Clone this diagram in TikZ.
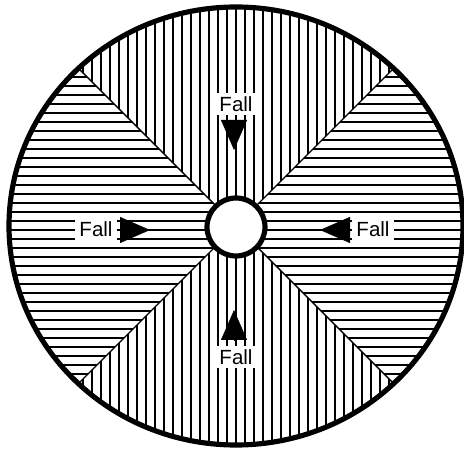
\documentclass[tikz,border=0pt]{standalone}
\usepackage{fontspec}
\setmainfont{Liberation Sans}
\usetikzlibrary{arrows.meta}

\begin{document}
\begin{tikzpicture}[
  x=0.3mm, y=-0.3mm,
  hatch/.style={line width=1.8pt},
  rim/.style={line width=4.4pt},
  border/.style={line width=1.2pt},
  falllabel/.style={fill=white, inner xsep=4pt, inner ysep=3pt,
    font=\fontsize{17.5}{21}\selectfont},
  fallhead/.style={-{Triangle[length=9mm, width=7.8mm]}, line width=0.4pt},
]

\useasboundingbox (0,0) rectangle (464,451);
\coordinate (ctr) at (236,226);

% =============================================
% Hatched sectors
% =============================================
\begin{scope}
  \clip (ctr) ellipse [x radius=227, y radius=219];
  % top and bottom: vertical lines
  \begin{scope}
    \clip (ctr) -- ++(-400,-400) -- ++(800,0) -- cycle
          (ctr) -- ++(-400,400) -- ++(800,0) -- cycle;
    \foreach \k in {-26,...,26}
      \draw[hatch] ({236+9*\k},0) -- ++(0,451);
  \end{scope}
  % left and right: horizontal lines
  \begin{scope}
    \clip (ctr) -- ++(-400,-400) -- ++(0,800) -- cycle
          (ctr) -- ++(400,-400) -- ++(0,800) -- cycle;
    \foreach \k in {-26,...,26}
      \draw[hatch] (0,{230+9*\k}) -- ++(464,0);
  \end{scope}
  % sector borders
  \draw[border] (ctr) ++(-300,-300) -- ++(600,600);
  \draw[border] (ctr) ++(300,-300) -- ++(-600,600);
\end{scope}

% Rim and hole
\draw[rim] (ctr) ellipse [x radius=227, y radius=219];
\draw[rim, fill=white] (236,227) circle [radius=29];

% =============================================
% Labels and arrows
% =============================================
\node[falllabel] (lblTop) at (236,104) {Fall};
\node[falllabel] (lblLeft) at (96,229) {Fall};
\node[falllabel] (lblRight) at (373,229) {Fall};
\node[falllabel] (lblBot) at (236,357) {Fall};

\coordinate (baseTop) at (234,120);   \coordinate (tipTop) at (234,150);
\coordinate (baseLeft) at (120,230);  \coordinate (tipLeft) at (150,230);
\coordinate (baseRight) at (350,230); \coordinate (tipRight) at (320,230);
\coordinate (baseBot) at (234,340);   \coordinate (tipBot) at (234,310);

\draw[fallhead] (baseTop) -- (tipTop);
\draw[fallhead] (baseLeft) -- (tipLeft);
\draw[fallhead] (baseRight) -- (tipRight);
\draw[fallhead] (baseBot) -- (tipBot);

\end{tikzpicture}
\end{document}
